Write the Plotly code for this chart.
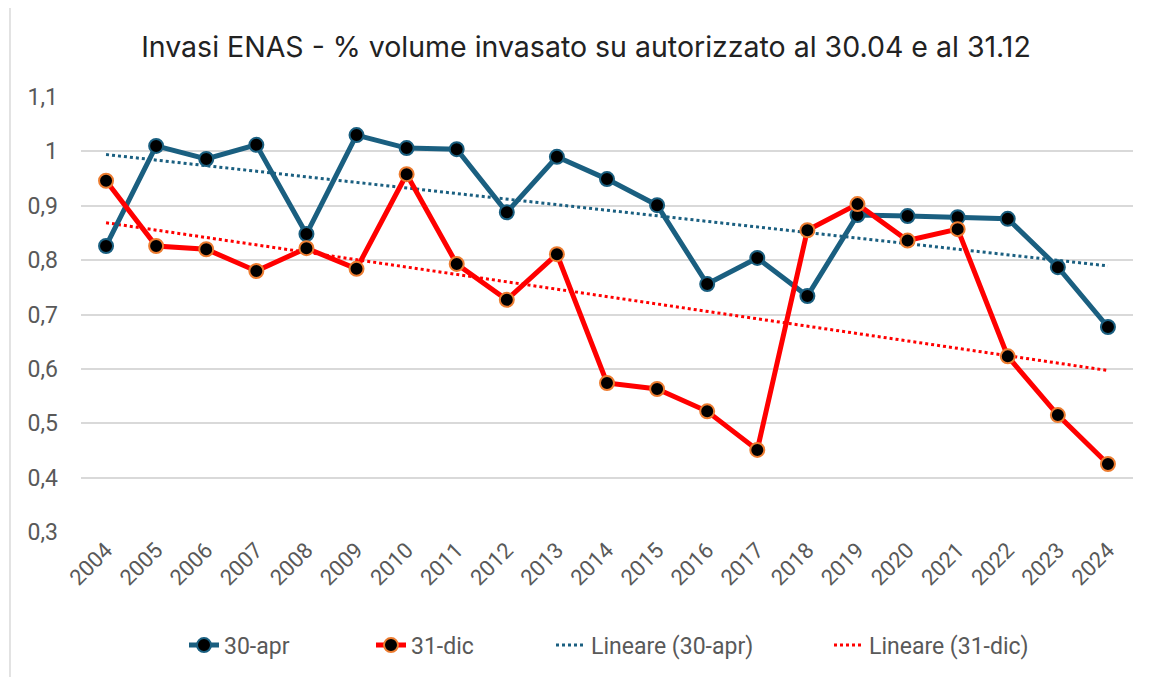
import numpy as np
import plotly.graph_objects as go

years = [str(y) for y in range(2004, 2025)]
apr30 = [0.826, 1.010, 0.986, 1.012, 0.848, 1.030, 1.006, 1.004, 0.888, 0.990, 0.949,
         0.901, 0.756, 0.804, 0.734, 0.883, 0.881, 0.879, 0.876, 0.787, 0.677]
dic31 = [0.946, 0.826, 0.820, 0.780, 0.822, 0.784, 0.958, 0.793, 0.727, 0.811, 0.574,
         0.563, 0.522, 0.451, 0.855, 0.903, 0.836, 0.857, 0.623, 0.515, 0.425]
ytick_vals = [0.3, 0.4, 0.5, 0.6, 0.7, 0.8, 0.9, 1.0, 1.1]
ytick_text = ["0,3", "0,4", "0,5", "0,6", "0,7", "0,8", "0,9", "1", "1,1"]

BLUE = "#1A5F80"
RED = "#FF0000"
ORANGE = "#ED7D31"

idx = np.arange(len(years))
tr_apr = np.polyval(np.polyfit(idx, apr30, 1), idx)
tr_dic = np.polyval(np.polyfit(idx, dic31, 1), idx)

fig = go.Figure()
fig.add_trace(go.Scatter(x=years, y=tr_apr, mode="lines", name="Lineare (30-apr)",
                         line=dict(color=BLUE, width=3, dash="dot"), legend="legend3"))
fig.add_trace(go.Scatter(x=years, y=tr_dic, mode="lines", name="Lineare (31-dic)",
                         line=dict(color=RED, width=3, dash="dot"), legend="legend4"))
fig.add_trace(go.Scatter(x=years, y=apr30, mode="lines+markers", name="30-apr",
                         line=dict(color=BLUE, width=5),
                         marker=dict(color="black", size=14, line=dict(color=BLUE, width=2)),
                         legend="legend"))
fig.add_trace(go.Scatter(x=years, y=dic31, mode="lines+markers", name="31-dic",
                         line=dict(color=RED, width=5),
                         marker=dict(color="black", size=14, line=dict(color=ORANGE, width=2)),
                         legend="legend2"))

legfont = dict(family="Roboto, Liberation Sans, sans-serif", size=23, color="#595959")


def leg(px):
    return dict(orientation="h", x=(px - 81) / 1052, xanchor="left", y=-0.26, yanchor="middle",
                font=legfont, bgcolor="rgba(0,0,0,0)")


fig.update_layout(
    width=1159, height=677,
    paper_bgcolor="white", plot_bgcolor="white",
    margin=dict(l=73, r=34, t=89, b=153),
    title=dict(text="Invasi ENAS - % volume invasato su autorizzato al 30.04 e al 31.12",
               xref="container", x=0.4987, xanchor="center", y=0.942, yanchor="middle",
               font=dict(family="Inter, Open Sans, sans-serif", size=28.5, color="#222222")),
    xaxis=dict(type="category", range=[-0.5, 20.5], tickangle=-45, showgrid=False,
               showline=False, ticks="", automargin=False,
               tickfont=dict(family="Roboto, Liberation Sans, sans-serif", size=22, color="#595959")),
    yaxis=dict(range=[0.3, 1.1], tickvals=ytick_vals, ticktext=ytick_text,
               showgrid=True, gridcolor="#D9D9D9", gridwidth=1.5, zeroline=False,
               showline=False, ticks="", ticklabelstandoff=22, automargin=False,
               tickfont=dict(family="Roboto, Liberation Sans, sans-serif", size=23, color="#595959")),
    legend=leg(184),
    legend2=leg(371),
    legend3=leg(551),
    legend4=leg(829),
    showlegend=True,
)
fig.add_shape(type="rect", xref="paper", yref="paper", x0=-0.0675, x1=1.1, y0=-0.5, y1=1.2115,
              line=dict(color="#D9D9D9", width=1.5), fillcolor="rgba(0,0,0,0)", layer="below")
fig.write_html("out.html")
